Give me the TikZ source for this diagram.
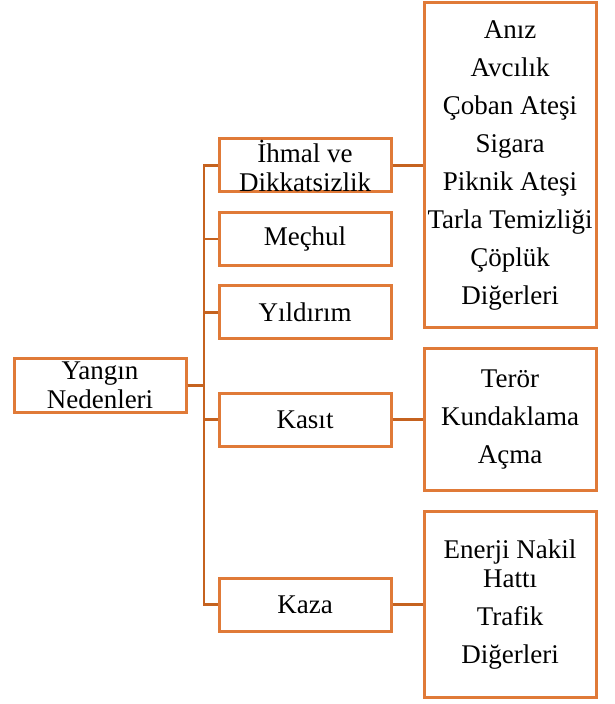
\documentclass[tikz,border=0pt]{standalone}
\usepackage{fontspec}
\setmainfont{Liberation Serif}
\definecolor{boxorange}{HTML}{E07A38}
\definecolor{lineorange}{HTML}{C5621F}

\begin{document}
\begin{tikzpicture}[x=0.5pt,y=-0.5pt,node distance=102.5pt,
		main node/.style={rectangle,draw=boxorange,line width=1.5pt,minimum width=86pt,
			minimum height=26.5pt,inner sep=0pt,align=center,
			font=\fontsize{13.5}{14.5}\selectfont},
		list node/.style={main node},
		link/.style={draw=lineorange,line width=1.4pt}]
	\useasboundingbox (0,0) rectangle (614,704);
	\node[main node] (0) at (100,385.5) {Yangın\\Nedenleri};
	\node[main node] (1) at (305,165.5) {İhmal ve\\Dikkatsizlik};
	\node[main node] (2) at (305,239) {Meçhul};
	\node[main node] (3) at (305,312.5) {Yıldırım};
	\node[main node] (4) at (305,419.5) {Kasıt};
	\node[main node] (5) at (305,604.5) {Kaza};
	%
	% Lists of the causes on the right.
	\node[list node,minimum height=162.5pt] (6) [right of=1]
		{Anız\\[4.5pt]Avcılık\\[4.5pt]Çoban Ateşi\\[4.5pt]Sigara\\[4.5pt]Piknik Ateşi\\[4.5pt]Tarla Temizliği\\[4.5pt]Çöplük\\[4.5pt]Diğerleri};
	\node[list node,minimum height=71pt] (7) [right of=4]
		{Terör\\[4.5pt]Kundaklama\\[4.5pt]Açma};
	\node[list node,minimum height=93pt] (8) [right of=5]
		{Enerji Nakil\\Hattı\\[4.5pt]Trafik\\[4.5pt]Diğerleri};
	%
	% Tree lines from the root to the main causes.
	\draw[link] (0.east) -- ++(16.5,0) |- (1.west);
	\draw[link] (0.east) -- ++(16.5,0) |- (2.west);
	\draw[link] (0.east) -- ++(16.5,0) |- (3.west);
	\draw[link] (0.east) -- ++(16.5,0) |- (4.west);
	\draw[link] (0.east) -- ++(16.5,0) |- (5.west);
	%
	% Straight lines to the lists.
	\draw[link] (1.east) -- (6.west);
	\draw[link] (4.east) -- (7.west);
	\draw[link] (5.east) -- (8.west);
\end{tikzpicture}
\end{document}
